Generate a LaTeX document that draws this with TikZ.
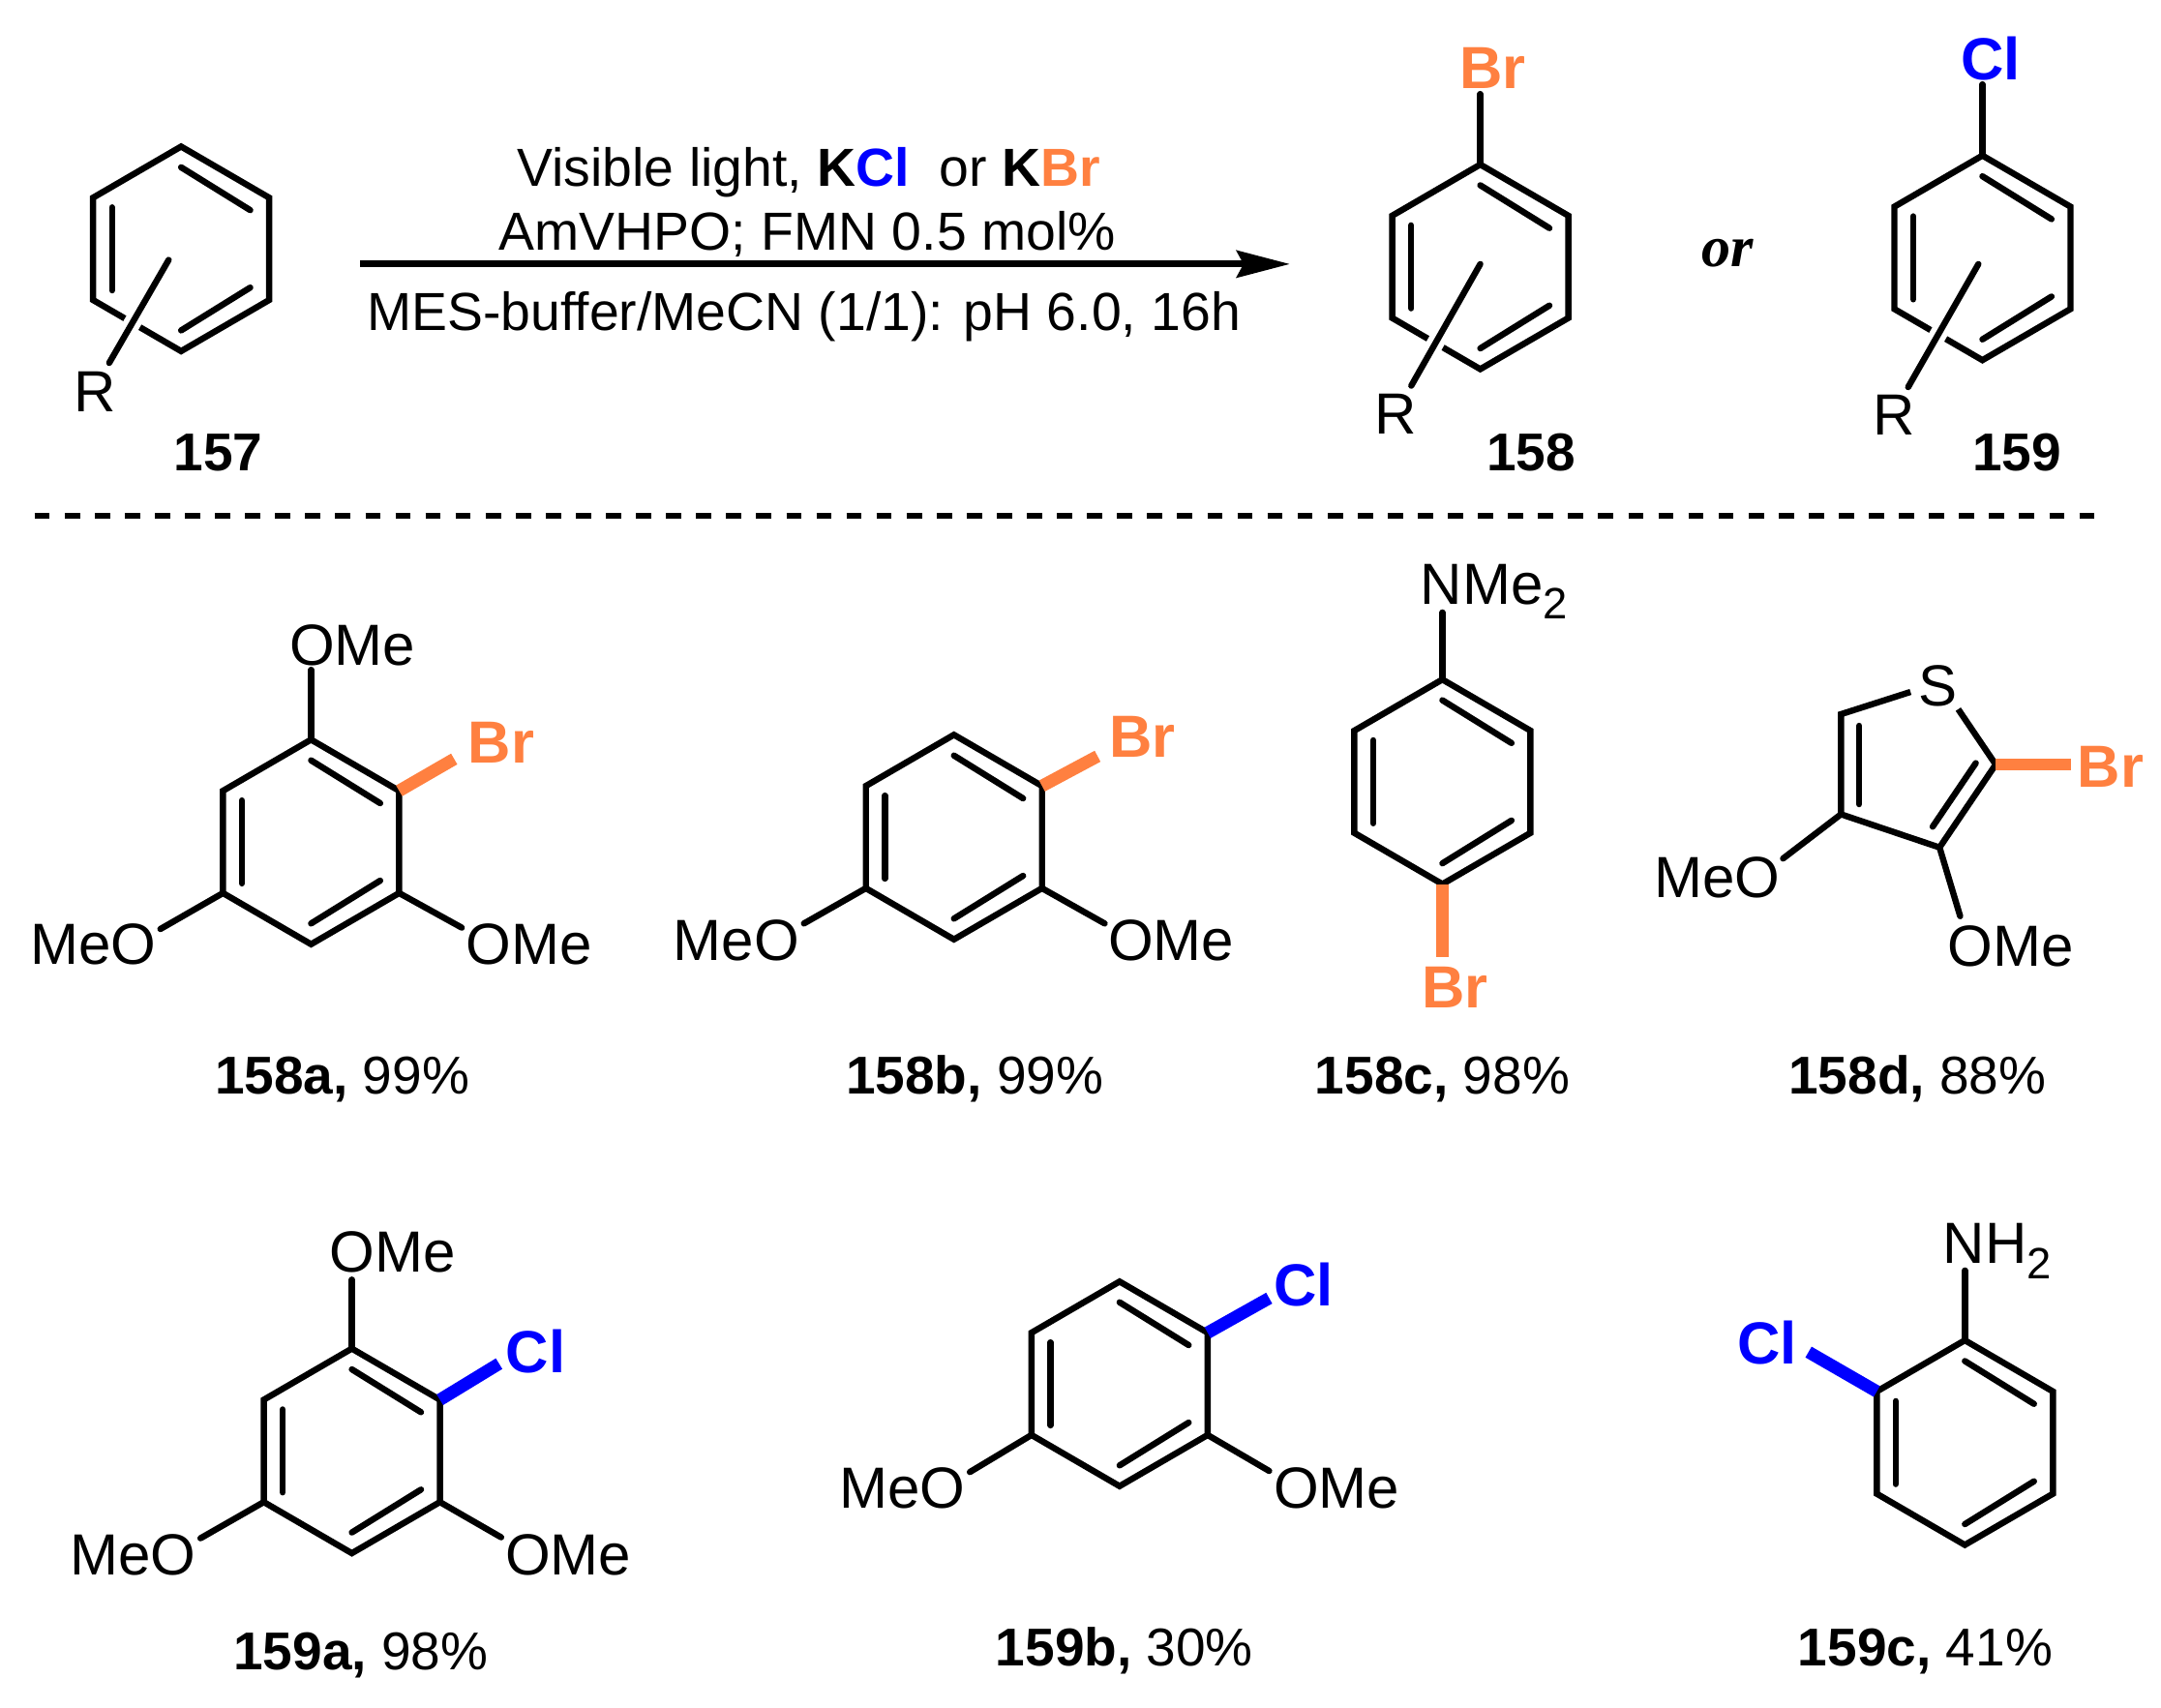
\documentclass[tikz,border=0pt]{standalone}
\usepackage{fontspec}
\setmainfont{Liberation Sans}
\newfontfamily\orfont{Liberation Serif}
\usetikzlibrary{arrows.meta}
\definecolor{brcol}{RGB}{255,128,64}
\definecolor{clcol}{RGB}{0,0,255}
% benzene ring: name, centre x, centre y
\newcommand{\arene}[3]{
  \coordinate (#1-1) at (#2,#3-74);
  \coordinate (#1-2) at (#2+63.7,#3-37);
  \coordinate (#1-3) at (#2+63.7,#3+37);
  \coordinate (#1-4) at (#2,#3+74);
  \coordinate (#1-5) at (#2-63.7,#3+37);
  \coordinate (#1-6) at (#2-63.7,#3-37);
  \draw[ringline] (#1-1)--(#1-2)--(#1-3)--(#1-4)--(#1-5)--(#1-6)--cycle;
  \draw[bond] (#2,#3-59)--(#2+50,#3-28);
  \draw[bond] (#2-50,#3-30)--(#2-50,#3+30);
  \draw[bond] (#2,#3+59)--(#2+50,#3+28);
}
\newcommand{\subtwo}{\raisebox{-0.26em}{\fontsize{12.7}{15}\selectfont 2}}
\begin{document}
\begin{tikzpicture}[x=0.4pt,y=-0.4pt]

    \tikzset{
      ringline/.style={line width=1.8pt,line join=miter},
      bond/.style={line width=1.8pt,line cap=round},
      rbond/.style={bond,preaction={draw,white,line width=5pt,line cap=butt}},
      brbond/.style={line width=3.6pt,color=brcol},
      clbond/.style={line width=3.6pt,color=clcol},
      atom/.style={anchor=base,inner sep=0pt,font=\fontsize{16.8}{20}\selectfont},
      lefttext/.style={atom,anchor=base west},
      bratom/.style={atom,color=brcol,font=\fontsize{17.2}{20}\selectfont\bfseries},
      clatom/.style={atom,color=clcol,font=\fontsize{17.2}{20}\selectfont\bfseries},
      cmpd/.style={atom,font=\fontsize{15.4}{18}\selectfont\bfseries},
      yieldlab/.style={atom,font=\fontsize{15.4}{18}\selectfont},
      condtext/.style={atom,font=\fontsize{15.5}{18}\selectfont},
    }
    \useasboundingbox (0,0) rectangle (1563.1,1234.8);

    % reaction scheme
    \arene{sm}{131}{180}
    \coordinate (sm-r) at (79,262.5);
    \draw[rbond] (122,188)--(sm-r);
    \node[atom] (smR) at (68.5,297.5) {R};
    \node[cmpd] (lab157) at (158,340.5) {157};

    \coordinate (arr-s) at (260.5,191);
    \coordinate (arr-e) at (933,191);
    \draw[line width=1.9pt,-{Stealth[length=15.4pt,width=7.8pt,inset=2pt]}] (arr-s)--(arr-e);
    \node[condtext] (cond1) at (585,135) {Visible light, \textbf{K\textcolor{clcol}{Cl}}\ \ or \textbf{K\textcolor{brcol}{Br}}};
    \node[condtext] (cond2) at (584,181) {AmVHPO; FMN 0.5 mol\%};
    \node[condtext] (cond3) at (581.5,239) {MES-buffer/MeCN (1/1): pH 6.0, 16h};

    \arene{pb}{1070.7}{193}
    \node[bratom] (pbBr) at (1079.6,63.75) {Br};
    \coordinate (pb-x) at (1070.7,68);
    \draw[bond] (pb-1)--(pb-x);
    \coordinate (pb-r) at (1020.8,279);
    \draw[rbond] (1070.7,191)--(pb-r);
    \node[atom] (pbR) at (1009.7,313.75) {R};
    \node[cmpd] (lab158) at (1107.4,340.5) {158};

    \node[atom,font=\fontsize{16.8}{20}\selectfont\orfont\bfseries\itshape] (ortext) at (1249.5,192.5) {or};

    \arene{pc}{1433.9}{186.5}
    \node[clatom] (pcCl) at (1439.8,57.5) {Cl};
    \coordinate (pc-x) at (1433.9,61);
    \draw[bond] (pc-1)--(pc-x);
    \coordinate (pc-r) at (1380.2,280);
    \draw[rbond] (1431,191)--(pc-r);
    \node[atom] (pcR) at (1370.2,314.5) {R};
    \node[cmpd] (lab159) at (1458.7,340.5) {159};

    \coordinate (sep-s) at (25,373);
    \coordinate (sep-e) at (1519,373);
    \draw[line width=1.6pt,dash pattern=on 4.4pt off 4.3pt] (sep-s)--(sep-e);

    % 158a
    \arene{a}{225}{609}
    \node[atom] (aOa) at (255,481) {OMe};
    \coordinate (a-oa) at (225,484.5);
    \draw[bond] (a-1)--(a-oa);
    \node[bratom] (aBr) at (362.5,552) {Br};
    \coordinate (a-br) at (328.5,549);
    \draw[brbond] (a-2)--(a-br);
    \node[atom] (aOb) at (382.5,697.5) {OMe};
    \coordinate (a-ob) at (334,671);
    \draw[bond] (a-3)--(a-ob);
    \node[atom] (aOc) at (67.5,697.5) {MeO};
    \coordinate (a-oc) at (116,672);
    \draw[bond] (a-5)--(a-oc);
    \node[yieldlab] (lab158a) at (247.5,791) {\textbf{158a,} 99\%};

    % 158b
    \arene{b}{690}{605.5}
    \node[atom] (bOa) at (532.5,695) {MeO};
    \coordinate (b-oa) at (581.5,668);
    \draw[bond] (b-5)--(b-oa);
    \node[bratom] (bBr) at (826.2,548) {Br};
    \coordinate (b-br) at (793.9,547);
    \draw[brbond] (b-2)--(b-br);
    \node[atom] (bOb) at (847.1,695) {OMe};
    \coordinate (b-ob) at (799,668);
    \draw[bond] (b-3)--(b-ob);
    \node[yieldlab] (lab158b) at (705,791) {\textbf{158b,} 99\%};

    % 158c
    \arene{c}{1043.3}{565.5}
    \node[lefttext] (cN) at (1027,437) {NMe\subtwo};
    \coordinate (c-n) at (1043.3,443);
    \draw[bond] (c-1)--(c-n);
    \node[bratom] (cBr) at (1052.3,729) {Br};
    \coordinate (c-br) at (1043.3,692);
    \draw[brbond] (c-4)--(c-br);
    \node[yieldlab] (lab158c) at (1043.3,791) {\textbf{158c,} 98\%};

    % 158d
    \coordinate (d-c5) at (1331.6,516.6);
    \coordinate (d-c4) at (1331.6,589);
    \coordinate (d-c3) at (1402.9,613);
    \coordinate (d-c2) at (1443.5,553);
    \coordinate (d-s1) at (1381.9,500.5);
    \coordinate (d-s2) at (1416.4,513);
    \node[atom] (dS) at (1401.9,510.5) {S};
    \draw[ringline] (d-s1)--(d-c5)--(d-c4)--(d-c3)--(d-c2)--(d-s2);
    \draw[bond] (1344.8,525)--(1344.8,581.7);
    \draw[bond] (1429.1,552)--(1397.9,598);
    \node[bratom] (dBr) at (1526.7,569.7) {Br};
    \coordinate (d-br) at (1498.2,553);
    \draw[brbond] (d-c2)--(d-br);
    \node[atom] (dOa) at (1242,649) {MeO};
    \coordinate (d-oa) at (1289.7,621);
    \draw[bond] (d-c4)--(d-oa);
    \node[atom] (dOb) at (1454.3,699) {OMe};
    \coordinate (d-ob) at (1417.8,662.7);
    \draw[bond] (d-c3)--(d-ob);
    \node[yieldlab] (lab158d) at (1386.9,791) {\textbf{158d,} 88\%};

    % 159a
    \arene{e}{254.5}{1049.5}
    \node[atom] (eOa) at (284,920) {OMe};
    \coordinate (e-oa) at (254.5,925.6);
    \draw[bond] (e-1)--(e-oa);
    \node[clatom] (eCl) at (387.5,993) {Cl};
    \coordinate (e-cl) at (361,986.4);
    \draw[clbond] (e-2)--(e-cl);
    \node[atom] (eOb) at (411,1139.4) {OMe};
    \coordinate (e-ob) at (362.5,1112);
    \draw[bond] (e-3)--(e-ob);
    \node[atom] (eOc) at (96,1139.4) {MeO};
    \coordinate (e-oc) at (145,1112.7);
    \draw[bond] (e-5)--(e-oc);
    \node[yieldlab] (lab159a) at (261,1208) {\textbf{159a,} 98\%};

    % 159b
    \arene{f}{809.8}{1001}
    \node[atom] (fOa) at (652.5,1090.8) {MeO};
    \coordinate (f-oa) at (701.5,1064.8);
    \draw[bond] (f-5)--(f-oa);
    \node[clatom] (fCl) at (943,944.6) {Cl};
    \coordinate (f-cl) at (918,939);
    \draw[clbond] (f-2)--(f-cl);
    \node[atom] (fOb) at (966.8,1090.8) {OMe};
    \coordinate (f-ob) at (918,1064);
    \draw[bond] (f-3)--(f-ob);
    \node[yieldlab] (lab159b) at (813.3,1205) {\textbf{159b,} 30\%};

    % 159c
    \arene{g}{1421.2}{1043.5}
    \node[lefttext] (gN) at (1405,914) {NH\subtwo};
    \coordinate (g-n) at (1421.2,919);
    \draw[bond] (g-1)--(g-n);
    \node[clatom] (gCl) at (1278.3,986.4) {Cl};
    \coordinate (g-cl) at (1308.1,978);
    \draw[clbond] (g-6)--(g-cl);
    \node[yieldlab] (lab159c) at (1392.6,1205) {\textbf{159c,} 41\%};

\end{tikzpicture}
\end{document}
